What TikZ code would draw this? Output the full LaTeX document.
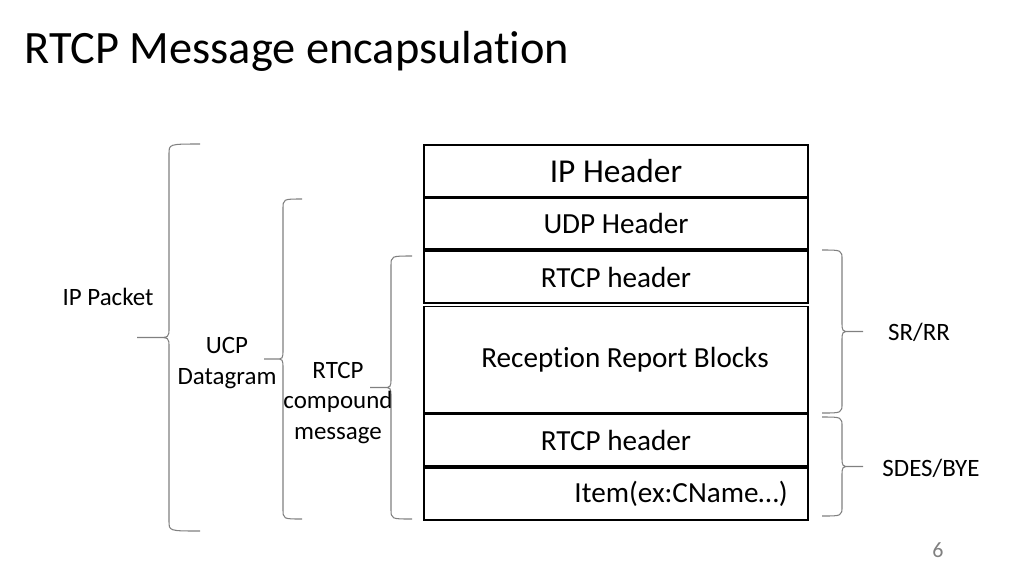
\documentclass[tikz,border=0pt]{standalone}
\usepackage{fontspec}
\setmainfont{Carlito}[Ligatures={NoCommon,NoContextual,NoRequired}, Contextuals=NoAlternate]
\usetikzlibrary{positioning}

% curly brace: end x, line x, tip x, top y, bottom y
\newcommand{\curlybrc}[5]{%
  \draw[brc] (#1,#4) .. controls (#2,#4) .. (#2,{#4+10})
    -- (#2,{(#4+#5)/2-10}) .. controls (#2,{(#4+#5)/2}) .. ({#2+0.4*(#3-#2)},{(#4+#5)/2})
    -- (#3,{(#4+#5)/2}) -- ({#2+0.4*(#3-#2)},{(#4+#5)/2})
    .. controls (#2,{(#4+#5)/2}) .. (#2,{(#4+#5)/2+10})
    -- (#2,{#5-10}) .. controls (#2,#5) .. (#1,#5);}

\tikzset{
  box/.style={draw, line width=1.1pt, minimum width=7.68cm, inner sep=0pt},
  boxtext/.style={font=\fontsize{16.6}{20}\selectfont},
  side/.style={align=center, inner sep=0pt, font=\fontsize{14.2}{17.6}\selectfont},
  brc/.style={gray, line width=0.6pt}
}

\begin{document}
\begin{tikzpicture}[x=0.02cm, y=-0.02cm]
    \useasboundingbox (0,0) rectangle (1024,576);
    \node[anchor=base west, inner sep=0pt, font=\fontsize{26.4}{30}\selectfont] (title) at (24,63) {RTCP Message encapsulation};

    % packet layers
    \node[box, minimum height=1.04cm, font=\fontsize{19}{22}\selectfont] (iph) at (616,171) {IP Header};
    \node[box, boxtext, minimum height=1.02cm] (udph) at (616,223.5) {UDP Header};
    \node[box, boxtext, minimum height=1.04cm] (rtcph1) at (616,277) {RTCP header};
    \node[box, minimum height=2.12cm] (rrb) at (616,359.5) {};
    \node[boxtext] (rrbtext) at (625,359.5) {Reception Report Blocks};
    \node[box, boxtext, minimum height=1.04cm] (rtcph2) at (616,440) {RTCP header};
    \node[box, minimum height=1.04cm] (item) at (616,494) {};
    \node[boxtext] (itemtext) at (681,494) {Item(ex:CName…)};

    % braces on the left
    \curlybrc{200}{169}{137}{144}{531}
    \curlybrc{302}{283}{264}{199}{519}
    \curlybrc{412}{391}{370}{256}{519}
    % braces on the right
    \curlybrc{822}{842}{863}{250}{413}
    \curlybrc{822}{842}{863}{417}{516}

    \node[side] (ippkt) at (108,297) {IP Packet};
    \node[side] (udpdg) at (227,363) {UCP\\Datagram};
    \node[side] (compound) at (338,403) {RTCP\\compound\\message};
    \node[side] (srrr) at (919,332) {SR/RR};
    \node[side] (sdes) at (931,468) {SDES/BYE};

    \node[gray, font=\fontsize{12.5}{15}\selectfont] (pageno) at (938,550) {6};
\end{tikzpicture}
\end{document}
